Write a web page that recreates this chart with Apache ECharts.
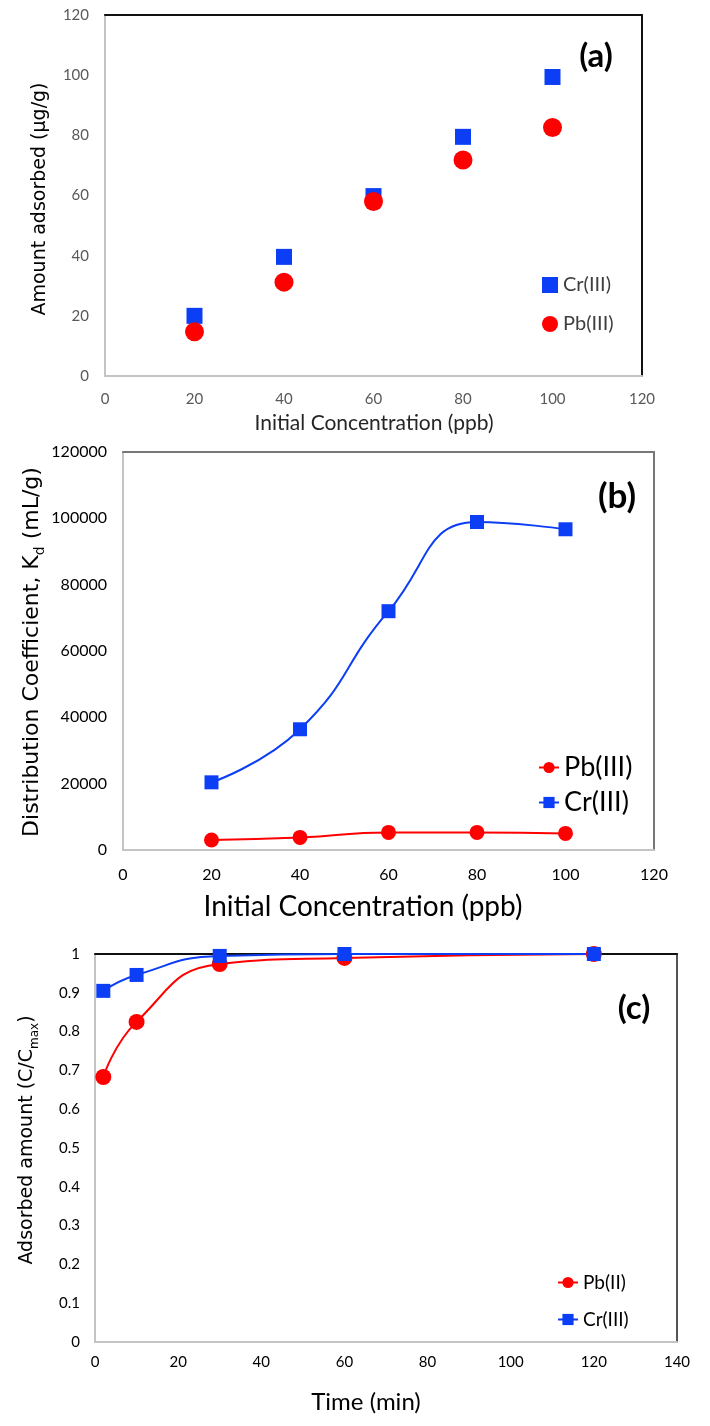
<!DOCTYPE html>
<html><head><meta charset="utf-8">
<script src="https://cdn.jsdelivr.net/npm/echarts@6/dist/echarts.min.js"></script>
<style>html,body{margin:0;padding:0;background:#fff}#c{width:710px;height:1426px}</style>
</head><body><div id="c"></div>
<script>
// ---- data ----
const concA = [20, 40, 60, 80, 100];
const crAmount = [20, 39.6, 59.8, 79.5, 99.4];
const pbAmount = [14.7, 31.2, 58, 71.8, 82.6];

const concB = [20, 40, 60, 80, 100];
const crKd = [20400, 36400, 72000, 98900, 96700];
const pbKd = [3000, 3800, 5300, 5300, 5000];

const timeC = [2, 10, 30, 60, 120];
const pbRatio = [0.683, 0.825, 0.974, 0.99, 1.0];
const crRatio = [0.905, 0.946, 0.995, 1.0, 1.0];

const seriesNamesA = ['Cr(III)', 'Pb(III)'];
const seriesNamesB = ['Pb(III)', 'Cr(III)'];
const seriesNamesC = ['Pb(II)', 'Cr(III)'];

const xTitle = 'Initial Concentration (ppb)';

// ---- style ----
const BLUE = '#0B3EF5', RED = '#FF0000';
const pair = (xs, ys) => xs.map((x, i) => [x, ys[i]]);

function mainX(gi, max, interval, color, fontSize, margin) {
  return { type: 'value', gridIndex: gi, min: 0, max, interval, position: 'bottom',
    axisLine: { show: true, onZero: false, lineStyle: { color: '#c4c4c4', width: 2 } },
    axisTick: { show: false }, splitLine: { show: false },
    axisLabel: { color, fontFamily: 'Lato', fontSize, margin, formatter: v => String(v) } };
}
function mainY(gi, max, interval, color, fontSize, margin) {
  return { type: 'value', gridIndex: gi, min: 0, max, interval, position: 'left',
    axisLine: { show: true, onZero: false, lineStyle: { color: '#c4c4c4', width: 2 } },
    axisTick: { show: false }, splitLine: { show: false },
    axisLabel: { color, fontFamily: 'Lato', fontSize, margin, formatter: v => String(v) } };
}
function borderAxis(gi, max, pos, color, width) {
  return { type: 'value', gridIndex: gi, min: 0, max, position: pos,
    axisLine: { show: true, onZero: false, lineStyle: { color, width } },
    axisTick: { show: false }, axisLabel: { show: false }, splitLine: { show: false } };
}
function text(x, y, t, font, size, extra) {
  return { type: 'text', x, y, z: 100, rotation: (extra && extra.rotation) || 0,
    style: Object.assign({ text: t, fontFamily: font, fontSize: size, fill: '#000', align: 'center', verticalAlign: 'middle' },
      (extra && extra.style) || {}) };
}
function richTitle(x, y, t, size, subSize) {
  return { type: 'text', x, y, rotation: Math.PI / 2, z: 100,
    style: { text: t, align: 'center', verticalAlign: 'middle', fill: '#000',
      rich: {
        n: { fontFamily: 'DejaVu Sans', fontSize: size, fill: '#000', lineHeight: size + 8 },
        s: { fontFamily: 'DejaVu Sans', fontSize: subSize, fill: '#000', lineHeight: size + 8, verticalAlign: 'bottom' }
      } } };
}

const chart = echarts.init(document.getElementById('c'), null, { renderer: 'canvas' });

chart.setOption({
  animation: false,
  backgroundColor: '#fff',
  grid: [
    { left: 105, top: 15, width: 537, height: 361 },
    { left: 123, top: 452, width: 531, height: 398 },
    { left: 95, top: 954, width: 582, height: 388 }
  ],
  xAxis: [
    mainX(0, 120, 20, '#595959', 15, 16),
    borderAxis(0, 120, 'top', '#111', 2),
    mainX(1, 120, 20, '#000', 16, 17),
    borderAxis(1, 120, 'top', '#777', 2),
    mainX(2, 140, 20, '#000', 15, 13),
    borderAxis(2, 140, 'top', '#111', 2)
  ],
  yAxis: [
    mainY(0, 120, 20, '#595959', 15, 16),
    borderAxis(0, 120, 'right', '#111', 2),
    mainY(1, 120000, 20000, '#000', 16, 16),
    borderAxis(1, 120000, 'right', '#777', 2),
    mainY(2, 1, 0.1, '#000', 15, 15),
    borderAxis(2, 1, 'right', '#555', 2)
  ],
  legend: [
    { left: 537, top: 270, orient: 'vertical', itemGap: 19, itemWidth: 16, itemHeight: 16,
      selectedMode: false, data: seriesNamesA.map(n => n + '#a'), formatter: n => n.split('#')[0],
      textStyle: { fontFamily: 'Lato', fontSize: 20, color: '#404040' } },
    { left: 533, top: 749, orient: 'vertical', itemGap: 8, itemWidth: 20, itemHeight: 14,
      selectedMode: false, data: seriesNamesB.map(n => n + '#b'), formatter: n => n.split('#')[0],
      textStyle: { fontFamily: 'Lato', fontSize: 27, color: '#000' } },
    { left: 552, top: 1268, orient: 'vertical', itemGap: 18, itemWidth: 20, itemHeight: 14,
      selectedMode: false, data: seriesNamesC.map(n => n + '#c'), formatter: n => n.split('#')[0],
      textStyle: { fontFamily: 'Lato', fontSize: 19, color: '#000' } }
  ],
  series: [
    { type: 'scatter', name: seriesNamesA[0] + '#a', xAxisIndex: 0, yAxisIndex: 0,
      data: pair(concA, crAmount), symbol: 'rect', symbolSize: 16, itemStyle: { color: BLUE, opacity: 1 } },
    { type: 'scatter', name: seriesNamesA[1] + '#a', xAxisIndex: 0, yAxisIndex: 0,
      data: pair(concA, pbAmount), symbol: 'circle', symbolSize: 19, itemStyle: { color: RED, opacity: 1 } },

    { type: 'line', name: seriesNamesB[0] + '#b', xAxisIndex: 2, yAxisIndex: 2, clip: false,
      data: pair(concB, pbKd), smooth: true, symbol: 'circle', symbolSize: 15,
      lineStyle: { color: RED, width: 2 }, itemStyle: { color: RED } },
    { type: 'line', name: seriesNamesB[1] + '#b', xAxisIndex: 2, yAxisIndex: 2, clip: false,
      data: pair(concB, crKd), smooth: true, symbol: 'rect', symbolSize: 14,
      lineStyle: { color: BLUE, width: 2 }, itemStyle: { color: BLUE } },

    { type: 'line', name: seriesNamesC[0] + '#c', xAxisIndex: 4, yAxisIndex: 4, clip: false,
      data: pair(timeC, pbRatio), smooth: true, symbol: 'circle', symbolSize: 16,
      lineStyle: { color: RED, width: 2 }, itemStyle: { color: RED } },
    { type: 'line', name: seriesNamesC[1] + '#c', xAxisIndex: 4, yAxisIndex: 4, clip: false,
      data: pair(timeC, crRatio), smooth: true, symbol: 'rect', symbolSize: 14,
      lineStyle: { color: BLUE, width: 2 }, itemStyle: { color: BLUE } }
  ],
  graphic: [
    text(374, 423, xTitle, 'Lato', 21, { style: { fill: '#262626' } }),
    text(40, 199, 'Amount adsorbed (\u03bcg/g)', 'DejaVu Sans', 19, { rotation: Math.PI / 2 }),
    text(596, 56, '(a)', 'Lato', 33, { style: { fontWeight: 'bold' } }),

    text(363, 907, xTitle, 'Lato', 28),
    richTitle(32, 652, '{n|Distribution Coefficient, K}{s|d}{n| (mL/g)}', 22, 14),
    text(617, 497, '(b)', 'Lato', 35, { style: { fontWeight: 'bold' } }),

    text(366, 1402, 'Time (min)', 'Lato', 24),
    richTitle(27, 1140, '{n|Adsorbed amount (C/C}{s|max}{n|)}', 19, 12),
    text(634, 1008, '(c)', 'Lato', 33, { style: { fontWeight: 'bold' } })
  ]
});
</script></body></html>
